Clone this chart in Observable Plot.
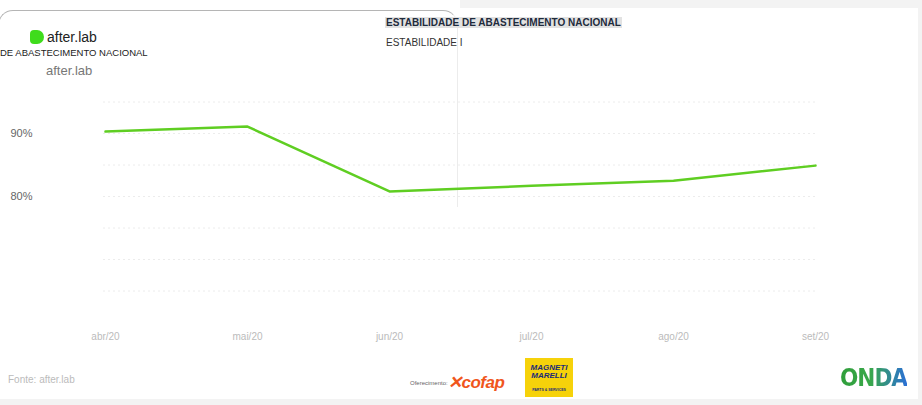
<!DOCTYPE html>
<html>
<head>
<meta charset="utf-8">
<script src="https://cdn.jsdelivr.net/npm/d3@7"></script>
<script src="https://cdn.jsdelivr.net/npm/@observablehq/plot@0.6"></script>
<style>
  html, body { margin: 0; padding: 0; background: #fff; }
  body { width: 922px; height: 405px; position: relative; overflow: hidden; font-family: "Liberation Sans", Arial, sans-serif; }
  #chart { position: absolute; left: 0; top: 0; }
  .abs { position: absolute; white-space: nowrap; }
  #topband { left: 460px; top: 0; width: 462px; height: 8px; background: #f3f3f3; }
  #rightband { left: 918px; top: 0; width: 4px; height: 405px; background: #f3f3f3; }
  #bottomband { left: 0; top: 399px; width: 922px; height: 6px; background: #f3f3f3; }
  #panel { left: -2px; top: 10px; width: 458px; height: 196px; border: 1px solid #b5b5b5; border-right-color: #ececec; border-bottom: none; border-radius: 15px 15px 0 0; }
  #logo { left: 30px; top: 29px; font-size: 14px; color: #222; display: flex; align-items: center; gap: 3px; }
  #logo .dot { width: 14px; height: 14px; background: #3fdc1c; border-radius: 4px 7px 7px 4px; }
  #title { left: 385px; top: 17px; font-size: 10px; font-weight: bold; color: #1e2b3c; background: #e2e2e2; padding: 0 1px; }
  #ghost1 { left: 0px; top: 47px; font-size: 9.5px; color: #222; }
  #ghost2 { left: 46px; top: 63px; font-size: 13px; color: #777; }
  #ghost3 { left: 386px; top: 37px; font-size: 10px; color: #333; }
  #source { left: 8px; top: 374px; font-size: 10px; color: #bbb; }
  #ofer { left: 410px; top: 380px; font-size: 6px; color: #666; }
  #cofap { left: 448px; top: 372px; font-size: 17px; font-weight: bold; font-style: italic; color: #f0561d; letter-spacing: -0.5px; }
  #magneti { left: 525px; top: 358px; width: 48px; height: 39px; background: #f6d20a; color: #1b2a78; text-align: center; font-weight: bold; }
  #magneti .m1 { font-size: 8px; line-height: 8px; margin-top: 6px; font-style: italic; }
  #magneti .m2 { font-size: 3.5px; margin-top: 8px; }
  #onda { left: 840px; top: 364px; font-size: 24px; font-weight: bold; letter-spacing: -1px; font-family: "DejaVu Sans Condensed", "Liberation Sans Narrow", sans-serif;
          background: linear-gradient(90deg, #2f9e3a 0%, #39a84a 45%, #2a6fd6 100%); -webkit-background-clip: text; background-clip: text; color: transparent; }
</style>
</head>
<body>
<div id="topband" class="abs"></div>
<div id="rightband" class="abs"></div>
<div id="bottomband" class="abs"></div>
<div id="panel" class="abs"></div>
<div id="chart"></div>
<div id="logo" class="abs"><span class="dot"></span><span>after.lab</span></div>
<div id="ghost1" class="abs">DE ABASTECIMENTO NACIONAL</div>
<div id="ghost2" class="abs">after.lab</div>
<div id="ghost3" class="abs">ESTABILIDADE I</div>
<div id="title" class="abs">ESTABILIDADE DE ABASTECIMENTO NACIONAL</div>
<div id="source" class="abs">Fonte: after.lab</div>
<div id="ofer" class="abs">Oferecimento:</div>
<div id="cofap" class="abs">✕cofap</div>
<div id="magneti" class="abs"><div class="m1">MAGNETI<br>MARELLI</div><div class="m2">PARTS &amp; SERVICES</div></div>
<div id="onda" class="abs">ONDA</div>
<script>
// Data (labels on x are unreadable in the reference; estimated)
const periods = ["abr/20", "mai/20", "jun/20", "jul/20", "ago/20", "set/20"];
const stability = [90.3, 91.1, 80.8, 81.7, 82.5, 84.9];
const yTicks = [80, 90];
const gridTicks = [65, 70, 75, 80, 85, 90, 95];

const data = periods.map((p, i) => ({period: p, value: stability[i]}));

const chart = Plot.plot({
  width: 922,
  height: 352,
  marginTop: 70,
  marginBottom: 30,
  marginLeft: 103,
  marginRight: 105,
  style: {background: "transparent", fontFamily: "Liberation Sans, Arial, sans-serif"},
  x: {type: "point", domain: periods, padding: 0, label: null},
  y: {domain: [60, 100], label: null},
  marks: [
    Plot.gridY(gridTicks, {stroke: "#ececec", strokeOpacity: 1, strokeDasharray: "2,3"}),
    Plot.axisY(yTicks, {tickFormat: d => d + "%", tickSize: 0, dx: -62, fontSize: 11, fill: "#666"}),
    Plot.axisX({tickSize: 0, tickPadding: 10, fontSize: 10, fill: "#bbb"}),
    Plot.line(data, {x: "period", y: "value", stroke: "#5fce22", strokeWidth: 2.5})
  ]
});
document.getElementById("chart").appendChild(chart);
</script>
</body>
</html>
